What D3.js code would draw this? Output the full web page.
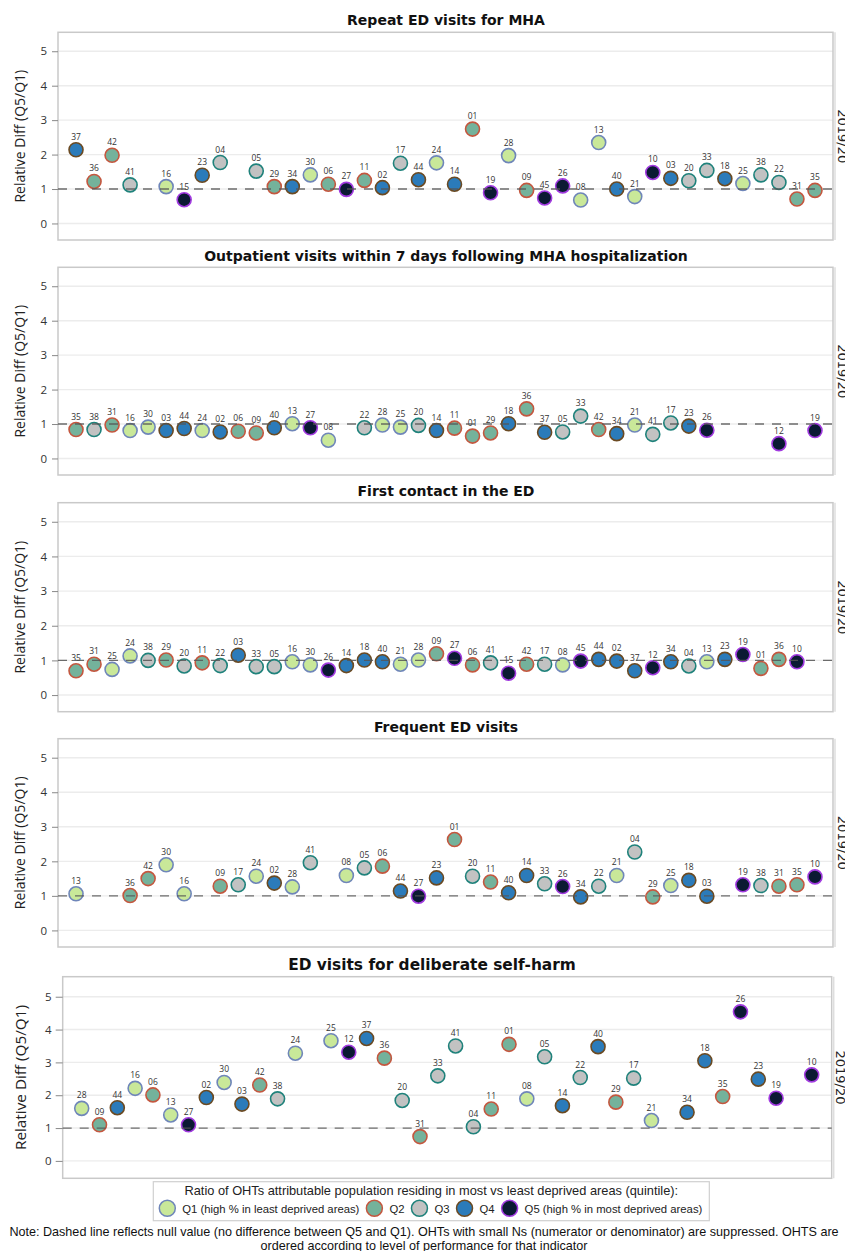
<!DOCTYPE html>
<html><head><meta charset="utf-8">
<script src="https://cdn.jsdelivr.net/npm/d3@7"></script>
<style>body{margin:0;background:#fff}svg{display:block}</style>
</head><body>
<svg id="c" width="845" height="1251"></svg>
<script>
// ---------- DATA ----------
const quintileNames = ["Q1 (high % in least deprived areas)", "Q2", "Q3", "Q4", "Q5 (high % in most deprived areas)"];
const ohtCodes    = ["01","02","03","04","05","06","08","09","10","11","12","13","14","15","16","17","18","19","20","21","22","23","24","25","26","27","28","29","30","31","33","34","35","36","37","38","40","41","42","44","45"];
const ohtQuintile = [ 2,   4,   4,   3,   3,   2,   1,   2,   5,   2,   5,   1,   4,   5,   1,   3,   4,   5,   3,   1,   3,   4,   1,   1,   5,   5,   1,   2,   1,   2,   3,   4,   2,   2,   4,   3,   4,   3,   2,   4,   5 ];

const panelTitles = ["Repeat ED visits for MHA", "Outpatient visits within 7 days following MHA hospitalization", "First contact in the ED", "Frequent ED visits", "ED visits for deliberate self-harm"];
const yTicks = [0, 1, 2, 3, 4, 5];
const yearLabel = "2019/20";
const nullValue = 1;

const repeatEdOht   = ["37","36","42","41","16","15","23","04","05","29","34","30","06","27","11","02","17","44","24","14","01","19","28","09","45","26","08","13","40","21","10","03","20","33","18","25","38","22","31","35"];
const repeatEdRank  = [1,2,3,4,6,7,8,9,11,12,13,14,15,16,17,18,19,20,21,22,23,24,25,26,27,28,29,30,31,32,33,34,35,36,37,38,39,40,41,42];
const repeatEdValue = [2.14,1.22,1.98,1.12,1.07,0.69,1.40,1.77,1.52,1.07,1.07,1.41,1.14,0.99,1.25,1.04,1.75,1.27,1.76,1.14,2.74,0.89,1.97,0.96,0.74,1.09,0.68,2.35,1.00,0.78,1.48,1.31,1.24,1.54,1.30,1.16,1.41,1.19,0.71,0.96];

const outpatientOht   = ["35","38","31","16","30","03","44","24","02","06","09","40","13","27","08","22","28","25","20","14","11","01","29","18","36","37","05","33","42","34","21","41","17","23","26","12","19"];
const outpatientRank  = [1,2,3,4,5,6,7,8,9,10,11,12,13,14,15,17,18,19,20,21,22,23,24,25,26,27,28,29,30,31,32,33,34,35,36,40,42];
const outpatientValue = [0.84,0.84,0.97,0.81,0.91,0.81,0.87,0.81,0.77,0.79,0.74,0.89,1.01,0.89,0.53,0.89,0.97,0.91,0.96,0.81,0.88,0.65,0.74,1.01,1.44,0.76,0.77,1.23,0.84,0.72,0.97,0.70,1.03,0.94,0.82,0.43,0.81];

const firstContactOht   = ["35","31","25","24","38","29","20","11","22","03","33","05","16","30","26","14","18","40","21","28","09","27","06","41","15","42","17","08","45","44","02","37","12","34","04","13","23","19","01","36","10"];
const firstContactRank  = [1,2,3,4,5,6,7,8,9,10,11,12,13,14,15,16,17,18,19,20,21,22,23,24,25,26,27,28,29,30,31,32,33,34,35,36,37,38,39,40,41];
const firstContactValue = [0.70,0.89,0.74,1.13,1.00,1.01,0.84,0.93,0.85,1.15,0.82,0.82,0.96,0.87,0.72,0.85,1.01,0.96,0.89,1.01,1.19,1.06,0.87,0.93,0.63,0.89,0.89,0.87,0.98,1.03,0.98,0.70,0.79,0.96,0.84,0.96,1.03,1.17,0.77,1.03,0.96];

const frequentOht   = ["13","36","42","30","16","09","17","24","02","28","41","08","05","06","44","27","23","01","20","11","40","14","33","26","34","22","21","04","29","25","18","03","19","38","31","35","10"];
const frequentRank  = [1,4,5,6,7,9,10,11,12,13,14,16,17,18,19,20,21,22,23,24,25,26,27,28,29,30,31,32,33,34,35,36,38,39,40,41,42];
const frequentValue = [1.06,1.01,1.50,1.90,1.06,1.28,1.32,1.57,1.37,1.26,1.96,1.59,1.81,1.86,1.14,0.99,1.52,2.63,1.57,1.40,1.09,1.59,1.35,1.27,0.97,1.28,1.59,2.27,0.97,1.30,1.45,0.99,1.32,1.30,1.28,1.32,1.55];

const selfHarmOht   = ["28","09","44","16","06","13","27","02","30","03","42","38","24","25","12","37","36","20","31","33","41","04","11","01","08","05","14","22","40","29","17","21","34","18","35","26","23","19","10"];
const selfHarmRank  = [1,2,3,4,5,6,7,8,9,10,11,12,13,15,16,17,18,19,20,21,22,23,24,25,26,27,28,29,30,31,32,33,35,36,37,38,39,40,42];
const selfHarmValue = [1.60,1.10,1.62,2.21,2.01,1.40,1.10,1.93,2.39,1.73,2.31,1.89,3.28,3.66,3.31,3.73,3.13,1.84,0.74,2.59,3.50,1.04,1.58,3.55,1.89,3.17,1.68,2.54,3.48,1.79,2.52,1.23,1.48,3.05,1.96,4.54,2.49,1.91,2.62];

const legendTitle = "Ratio of OHTs attributable population residing in most vs least deprived areas (quintile):";
const noteLines = ["Note: Dashed line reflects null value (no difference between Q5 and Q1). OHTs with small Ns (numerator or denominator) are suppressed. OHTS are",
                   "ordered according to level of performance for that indicator"];

// ---------- STYLE / LAYOUT ----------
const fills   = ["#c9e899", "#74b29b", "#c2c2c2", "#2b7bba", "#0b1a33"];
const strokes = ["#6f86b9", "#c4573f", "#1f827b", "#6b4a22", "#a23be0"];
const quintileOf = new Map(ohtCodes.map((c, i) => [c, ohtQuintile[i]]));

const panelData = [
  [repeatEdOht, repeatEdRank, repeatEdValue],
  [outpatientOht, outpatientRank, outpatientValue],
  [firstContactOht, firstContactRank, firstContactValue],
  [frequentOht, frequentRank, frequentValue],
  [selfHarmOht, selfHarmRank, selfHarmValue]
];
const layout = [
  {top: 32.3,  bottom: 240,   left: 58,   right: 833,   xl: 58,   xr: 833,   dom: [-0.48, 5.55], titleX: 446, titleY: 25,    titleSize: 14,   labSize: 14,   labX: 24.5, tick: 6, pad: 5, yearX: 838},
  {top: 267.3, bottom: 475,   left: 58,   right: 833,   xl: 58,   xr: 833,   dom: [-0.48, 5.55], titleX: 446, titleY: 260.5, titleSize: 14,   labSize: 14,   labX: 24.5, tick: 6, pad: 5, yearX: 838},
  {top: 502.7, bottom: 711.7, left: 58,   right: 833,   xl: 58,   xr: 833,   dom: [-0.48, 5.55], titleX: 446, titleY: 496,   titleSize: 14,   labSize: 14,   labX: 24.5, tick: 6, pad: 5, yearX: 838},
  {top: 738.7, bottom: 947,   left: 58,   right: 833,   xl: 58,   xr: 833,   dom: [-0.48, 5.55], titleX: 446, titleY: 731.5, titleSize: 14,   labSize: 14,   labX: 24.5, tick: 6, pad: 5, yearX: 838},
  {top: 976.7, bottom: 1178.3,left: 62.7, right: 831.7, xl: 63.9, xr: 829.5, dom: [-0.53, 5.61], titleX: 432, titleY: 969.5, titleSize: 15.4, labSize: 15.3, labX: 26,   tick: 7, pad: 4, yearX: 836}
];

const svg = d3.select("#c");
const sansUI = "'Open Sans', 'DejaVu Sans', sans-serif";

panelData.forEach(([ohts, ranks, vals], p) => {
  const L = layout[p];
  const g = svg.append("g");
  const x = d3.scaleLinear().domain([0, 43]).range([L.xl, L.xr]);
  const y = d3.scaleLinear().domain(L.dom).range([L.bottom, L.top]);

  // gridlines
  g.selectAll("line.grid").data(yTicks).join("line")
    .attr("x1", L.left).attr("x2", L.right)
    .attr("y1", d => y(d)).attr("y2", d => y(d))
    .attr("stroke", "#ececec").attr("stroke-width", 1.4);

  // frame
  g.append("rect").attr("x", L.left).attr("y", L.top)
    .attr("width", L.right - L.left).attr("height", L.bottom - L.top)
    .attr("fill", "none").attr("stroke", "#c9c9c9").attr("stroke-width", 1.5);
  // strip border
  g.append("line").attr("x1", L.right + 2).attr("x2", L.right + 2)
    .attr("y1", L.top).attr("y2", L.bottom).attr("stroke", "#dedede").attr("stroke-width", 1.5);

  // axis
  const ax = g.append("g").attr("transform", `translate(${L.left},0)`)
    .call(d3.axisLeft(y).tickValues(yTicks).tickSize(L.tick).tickPadding(L.pad).tickFormat(d3.format("d")));
  ax.select(".domain").remove();
  ax.selectAll(".tick line").attr("stroke", "#888");
  ax.selectAll(".tick text").attr("fill", "#333").attr("font-size", 11.5).attr("font-family", sansUI);

  // y label
  g.append("text")
    .attr("transform", `translate(${L.labX},${(L.top + L.bottom) / 2}) rotate(-90)`)
    .attr("text-anchor", "middle").attr("font-family", sansUI)
    .attr("font-size", L.labSize).attr("fill", "#222").text("Relative Diff (Q5/Q1)");

  // title
  g.append("text").attr("x", L.titleX).attr("y", L.titleY)
    .attr("text-anchor", "middle").attr("font-family", "'DejaVu Sans', sans-serif")
    .attr("font-weight", "bold").attr("font-size", L.titleSize).attr("fill", "#111")
    .text(panelTitles[p]);

  // year strip (clipped at the page edge, as in the original)
  g.append("text")
    .attr("transform", `translate(${L.yearX},${(L.top + L.bottom) / 2}) rotate(90)`)
    .attr("text-anchor", "middle").attr("font-family", "'DejaVu Sans', sans-serif")
    .attr("font-size", 13).attr("fill", "#222").text(yearLabel);

  const pts = ohts.map((o, i) => ({oht: o, rank: ranks[i], v: vals[i], q: quintileOf.get(o)}));

  // points
  g.selectAll("circle.pt").data(pts).join("circle")
    .attr("cx", d => x(d.rank)).attr("cy", d => y(d.v)).attr("r", 7)
    .attr("fill", d => fills[d.q - 1]).attr("stroke", d => strokes[d.q - 1]).attr("stroke-width", 1.6);

  // labels
  g.selectAll("text.lab").data(pts).join("text")
    .attr("x", d => x(d.rank)).attr("y", d => y(d.v) - 10)
    .attr("text-anchor", "middle").attr("font-family", sansUI)
    .attr("font-size", 8.5).attr("fill", "#333").text(d => d.oht);

  // null reference line
  g.append("line").attr("x1", L.left).attr("x2", L.right)
    .attr("y1", y(nullValue)).attr("y2", y(nullValue))
    .attr("stroke", "#555").attr("stroke-opacity", 0.85).attr("stroke-width", 1.3)
    .attr("stroke-dasharray", "9,8");
});

// ---------- LEGEND ----------
const lg = svg.append("g");
const legFont = "'Liberation Sans', Arial, sans-serif";
const legSize = 12.8;
const itemSize = 11.3;
const legBox = lg.append("rect").attr("fill", "#fff").attr("stroke", "#d0d0d0").attr("stroke-width", 1.2);
let cx = 167.3;
const itemY = 1208.3;
quintileNames.forEach((name, i) => {
  lg.append("circle").attr("cx", cx).attr("cy", itemY).attr("r", 8)
    .attr("fill", fills[i]).attr("stroke", strokes[i]).attr("stroke-width", 1.5);
  const t = lg.append("text").attr("x", cx + 15).attr("y", itemY + 4.2)
    .attr("font-family", legFont).attr("font-size", itemSize).attr("fill", "#222").text(name);
  cx = cx + 15 + t.node().getComputedTextLength() + 15;
});
const boxRight = cx - 8;
legBox.attr("x", 153.3).attr("y", 1181.7).attr("width", boxRight - 153.3).attr("height", 39);
lg.append("text").attr("x", (153.3 + boxRight) / 2).attr("y", 1195).attr("text-anchor", "middle")
  .attr("font-family", legFont).attr("font-size", legSize).attr("fill", "#222").text(legendTitle);

// ---------- NOTE ----------
noteLines.forEach((line, i) => {
  svg.append("text").attr("x", 424).attr("y", 1236 + i * 13.5).attr("text-anchor", "middle")
    .attr("font-family", legFont).attr("font-size", 12.6).attr("fill", "#111").text(line);
});
</script>
</body></html>
